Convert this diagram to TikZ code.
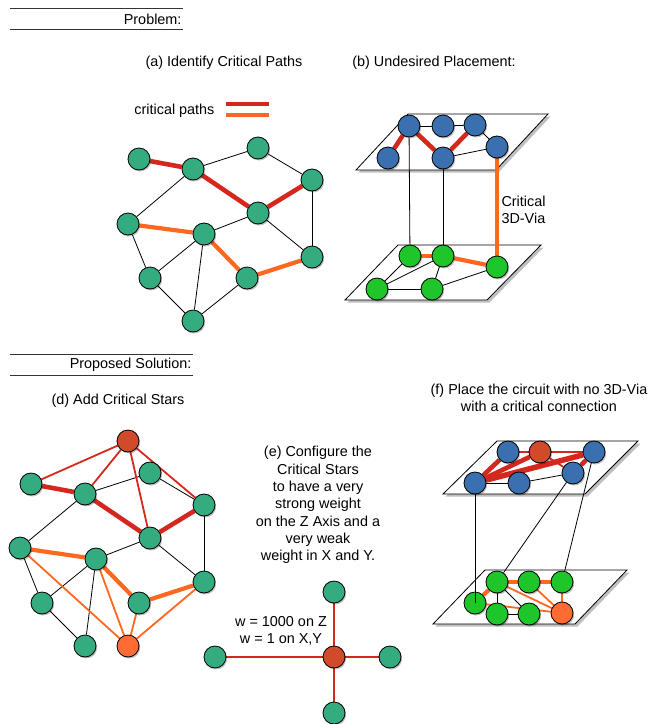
\documentclass[tikz,border=0pt]{standalone}
\usepackage{fontspec}
\setmainfont{Liberation Sans}
\usetikzlibrary{shadows}

\definecolor{cellgreen}{RGB}{52,172,128}
\definecolor{topblue}{RGB}{58,111,176}
\definecolor{botgreen}{RGB}{31,198,42}
\definecolor{critred}{RGB}{212,40,30}
\definecolor{critorange}{RGB}{255,104,30}
\definecolor{starred}{RGB}{210,74,44}
\definecolor{starorange}{RGB}{255,107,53}

\pgfdeclarelayer{planes}
\pgfdeclarelayer{edges}
\pgfsetlayers{planes,edges,main}

\tikzset{
  vtx/.style={circle, draw=black, line width=0.8pt, minimum size=22pt, inner sep=0pt,
    drop shadow={shadow xshift=1.2pt, shadow yshift=-1.5pt, fill=black, opacity=0.25}},
  cell/.style={vtx, fill=cellgreen},
  topcell/.style={vtx, fill=topblue},
  botcell/.style={vtx, fill=botgreen},
  redstar/.style={vtx, fill=starred},
  orangestar/.style={vtx, fill=starorange},
  wire/.style={line width=0.8pt},
  redpath/.style={draw=critred, line width=4.6pt},
  orangepath/.style={draw=critorange, line width=4.2pt},
  redspoke/.style={draw=critred, line width=1.8pt},
  orangespoke/.style={draw=critorange, line width=1.8pt},
  plane/.style={draw, fill=white, line width=0.8pt,
    drop shadow={shadow xshift=2.5pt, shadow yshift=-2.5pt, fill=black, opacity=0.25}},
  rule/.style={draw=black!80, line width=0.9pt}
}

\begin{document}
\begin{tikzpicture}[x=1pt, y=-1pt, every node/.style={font=\fontsize{14.4}{17.3}\selectfont}]
    \useasboundingbox (0,0) rectangle (650,724);

    % headings
    \coordinate (h1a) at (10,8);
    \coordinate (h1b) at (183,8);
    \coordinate (h1c) at (10,29);
    \coordinate (h1d) at (183,29);
    \draw[rule] (h1a) -- (h1b);
    \draw[rule] (h1c) -- (h1d);
    \node[anchor=east] (prob) at (185,19) {Problem:};
    \coordinate (h2a) at (10,354);
    \coordinate (h2b) at (193,354);
    \coordinate (h2c) at (10,375);
    \coordinate (h2d) at (193,375);
    \draw[rule] (h2a) -- (h2b);
    \draw[rule] (h2c) -- (h2d);
    \node[anchor=east] (sol) at (195,365) {Proposed Solution:};

    % captions
    \node (capa) at (224,63) {(a) Identify Critical Paths};
    \node (capb) at (434,63) {(b) Undesired Placement:};
    \node (capd) at (118,401) {(d) Add Critical Stars};
    \node[align=center] (cape) at (318,505) {(e) Configure the\\Critical Stars\\to have a very\\strong weight\\on the Z Axis and a\\very weak\\weight in X and Y.};
    \node[align=center] (capf) at (539,398) {(f) Place the circuit with no 3D-Via\\with a critical connection};

    % legend
    \node[anchor=east] (leg) at (218,111) {critical paths};
    \coordinate (lr1) at (226,104);
    \coordinate (lr2) at (269,104);
    \coordinate (lo1) at (226,115);
    \coordinate (lo2) at (269,115);
    \draw[redpath] (lr1) -- (lr2);
    \draw[orangepath] (lo1) -- (lo2);

    % layers
    \begin{pgfonlayer}{planes}
        \draw[plane] (408,114) -- (548,114) -- (496,170) -- (356,170) -- cycle;
        \draw[plane] (398,245) -- (541,245) -- (487,300) -- (345,300) -- cycle;
        \draw[plane] (497,441) -- (638,441) -- (585,494) -- (443,494) -- cycle;
        \draw[plane] (485,570) -- (627,570) -- (575,624) -- (433,624) -- cycle;
    \end{pgfonlayer}

    % (a) vertices
    \node[cell] (a1) at (139,159) {};
    \node[cell] (a2) at (193,169) {};
    \node[cell] (a3) at (258,148) {};
    \node[cell] (a4) at (312,180) {};
    \node[cell] (a5) at (258,213) {};
    \node[cell] (a6) at (128,224) {};
    \node[cell] (a7) at (204,234) {};
    \node[cell] (a8) at (312,257) {};
    \node[cell] (a9) at (150,278) {};
    \node[cell] (a10) at (247,278) {};
    \node[cell] (a11) at (193,321) {};

    % (b) vertices
    \node[topcell] (bt1) at (409,126) {};
    \node[topcell] (bt2) at (443,126) {};
    \node[topcell] (bt3) at (475,125) {};
    \node[topcell] (bt4) at (497,147) {};
    \node[topcell] (bt5) at (388,158) {};
    \node[topcell] (bt6) at (443,158) {};
    \node[botcell] (bb1) at (410,256) {};
    \node[botcell] (bb2) at (443,256) {};
    \node[botcell] (bb3) at (497,267) {};
    \node[botcell] (bb4) at (377,289) {};
    \node[botcell] (bb5) at (432,289) {};
    \node[anchor=west, align=left] (via) at (498,210) {Critical\\3D-Via};

    % (d) vertices
    \node[redstar] (dsr) at (128,441) {};
    \node[cell] (d1) at (31,484) {};
    \node[cell] (d2) at (85,494) {};
    \node[cell] (d3) at (150,473) {};
    \node[cell] (d4) at (204,505) {};
    \node[cell] (d5) at (150,538) {};
    \node[cell] (d6) at (20,548) {};
    \node[cell] (d7) at (96,559) {};
    \node[cell] (d8) at (204,582) {};
    \node[cell] (d9) at (42,603) {};
    \node[cell] (d10) at (139,603) {};
    \node[cell] (d11) at (85,646) {};
    \node[orangestar] (dso) at (128,646) {};

    % (e) star
    \node[redstar] (ec) at (334,657) {};
    \node[cell] (en) at (334,592) {};
    \node[cell] (es) at (334,713) {};
    \node[cell] (ew) at (215,657) {};
    \node[cell] (ee) at (390,657) {};
    \node[align=center] (wt) at (281,631) {w = 1000 on Z\\w = 1 on X,Y};

    % (f) vertices
    \node[topcell] (ft1) at (508,452) {};
    \node[redstar] (ftr) at (540,452) {};
    \node[topcell] (ft3) at (594,452) {};
    \node[topcell] (ft4) at (573,473) {};
    \node[topcell] (ft5) at (475,483) {};
    \node[topcell] (ft6) at (519,483) {};
    \node[botcell] (fb1) at (497,582) {};
    \node[botcell] (fb2) at (529,582) {};
    \node[botcell] (fb3) at (562,582) {};
    \node[botcell] (fb4) at (475,603) {};
    \node[botcell] (fb5) at (497,614) {};
    \node[botcell] (fb6) at (529,614) {};
    \node[orangestar] (fbo) at (562,613) {};

    \begin{pgfonlayer}{edges}
        % (a) edges
        \draw[wire] (a2) -- (a3);
        \draw[wire] (a3) -- (a4);
        \draw[wire] (a4) -- (a8);
        \draw[wire] (a2) -- (a6);
        \draw[wire] (a7) -- (a5);
        \draw[wire] (a5) -- (a8);
        \draw[wire] (a6) -- (a9);
        \draw[wire] (a9) -- (a7);
        \draw[wire] (a7) -- (a11);
        \draw[wire] (a9) -- (a11);
        \draw[wire] (a10) -- (a11);
        \draw[redpath] (a1) -- (a2);
        \draw[redpath] (a2) -- (a5);
        \draw[redpath] (a5) -- (a4);
        \draw[orangepath] (a6) -- (a7);
        \draw[orangepath] (a7) -- (a10);
        \draw[orangepath] (a10) -- (a8);

        % (b) edges
        \draw[wire] (bt1) -- (bt2);
        \draw[wire] (bt2) -- (bt3);
        \draw[wire] (bt3) -- (bt4);
        \draw[wire] (bt6) -- (bt4);
        \draw[redpath] (bt1) -- (bt5);
        \draw[redpath] (bt1) -- (bt6);
        \draw[redpath] (bt6) -- (bt3);
        \draw[wire] (bb1) -- (bb4);
        \draw[wire] (bb2) -- (bb4);
        \draw[wire] (bb2) -- (bb5);
        \draw[wire] (bb4) -- (bb5);
        \draw[wire] (bb5) -- (bb3);
        \draw[orangepath] (bb1) -- (bb2);
        \draw[orangepath] (bb2) -- (bb3);
        \draw[wire] (bt1) -- (bb1);
        \draw[wire] (bt6) -- (bb2);
        \draw[orangepath] (bt4) -- (bb3);

        % (d) edges
        \draw[wire] (d2) -- (d3);
        \draw[wire] (d3) -- (d4);
        \draw[wire] (d4) -- (d8);
        \draw[wire] (d2) -- (d6);
        \draw[wire] (d7) -- (d5);
        \draw[wire] (d5) -- (d8);
        \draw[wire] (d6) -- (d9);
        \draw[wire] (d9) -- (d7);
        \draw[wire] (d7) -- (d11);
        \draw[wire] (d9) -- (d11);
        \draw[redspoke] (dsr) -- (d1);
        \draw[redspoke] (dsr) -- (d2);
        \draw[redspoke] (dsr) -- (d5);
        \draw[redspoke] (dsr) -- (d4);
        \draw[orangespoke] (dso) -- (d6);
        \draw[orangespoke] (dso) -- (d7);
        \draw[orangespoke] (dso) -- (d10);
        \draw[orangespoke] (dso) -- (d8);
        \draw[redpath] (d1) -- (d2);
        \draw[redpath] (d2) -- (d5);
        \draw[redpath] (d5) -- (d4);
        \draw[orangepath] (d6) -- (d7);
        \draw[orangepath] (d7) -- (d10);
        \draw[orangepath] (d10) -- (d8);

        % (e) edges
        \draw[redspoke] (ec) -- (en);
        \draw[redspoke] (ec) -- (es);
        \draw[redspoke] (ec) -- (ew);
        \draw[redspoke] (ec) -- (ee);

        % (f) edges
        \draw[wire] (ft5) -- (ft6);
        \draw[wire] (ft6) -- (ft4);
        \draw[redspoke] (ft1) -- (ftr);
        \draw[redspoke] (ftr) -- (ft3);
        \draw[redspoke] (ftr) -- (ft4);
        \draw[redpath] (ft5) -- (ft1);
        \draw[redpath] (ft5) -- (ftr);
        \draw[redpath, line width=5.5pt] (ft5) -- (ft3);
        \draw[redpath] (ft3) -- (ft4);
        \draw[wire] (fb1) -- (fb5);
        \draw[wire] (fb5) -- (fb6);
        \draw[wire] (fb1) -- (fb6);
        \draw[orangespoke] (fbo) -- (fb1);
        \draw[orangespoke] (fbo) -- (fb2);
        \draw[orangespoke] (fbo) -- (fb3);
        \draw[orangespoke] (fbo) -- (fb4);
        \draw[orangepath] (fb1) -- (fb2);
        \draw[orangepath] (fb2) -- (fb3);
        \draw[orangepath] (fb4) -- (fb1);
        \draw[wire] (ft4) -- (fb1);
        \draw[wire] (ft3) -- (fb3);
    \end{pgfonlayer}
    \draw[wire] (ft5) -- (fb4.center);
\end{tikzpicture}
\end{document}
